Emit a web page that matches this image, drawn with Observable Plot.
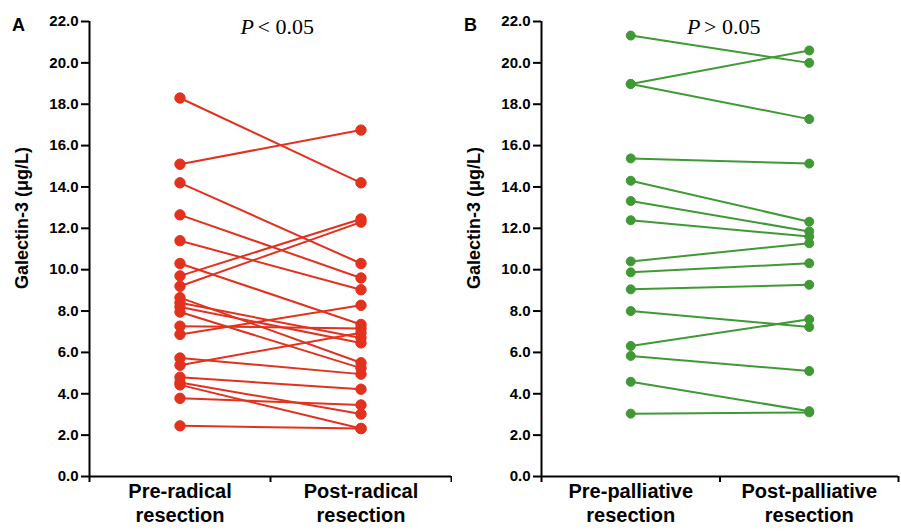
<!DOCTYPE html>
<html><head><meta charset="utf-8">
<script src="https://cdn.jsdelivr.net/npm/d3@7"></script>
<script src="https://cdn.jsdelivr.net/npm/@observablehq/plot@0.6"></script>
<style>
body{margin:0;background:#fff;}
#wrap{display:flex;width:901px;height:531px;overflow:hidden;}
</style></head><body><div id="wrap"></div>
<script>
// Panel A: radical resection (paired values, same index = same patient)
const radicalGroups = ["Pre-radical\nresection", "Post-radical\nresection"];
const radicalPre  = [18.3, 15.1, 14.2, 12.65, 11.4, 10.3, 9.7, 9.2, 8.65, 8.4, 8.2, 7.95, 7.27, 6.87, 5.73, 5.38, 4.8, 4.55, 4.43, 3.78, 2.45];
const radicalPost = [14.2, 16.75, 10.3, 9.6, 9.03, 7.35, 12.45, 12.3, 5.5, 6.7, 6.46, 5.24, 7.16, 8.28, 4.95, 6.95, 4.22, 3.02, 2.32, 3.46, 2.32];
// Panel B: palliative resection
const palliativeGroups = ["Pre-palliative\nresection", "Post-palliative\nresection"];
const palliativePre  = [21.32, 18.98, 18.98, 15.38, 14.3, 13.32, 12.39, 10.4, 9.87, 9.05, 8.0, 6.31, 5.83, 4.58, 3.04];
const palliativePost = [20.0, 20.6, 17.28, 15.13, 12.32, 11.85, 11.6, 11.28, 10.31, 9.27, 7.23, 7.6, 5.1, 3.16, 3.1];
// Axis / text
const yTicks = [0, 2, 4, 6, 8, 10, 12, 14, 16, 18, 20, 22];
const yLabel = "Galectin-3 (μg/L)";
const panelLetters = ["A", "B"];
const pTexts = [["P", "< 0.05"], ["P", "> 0.05"]];

function panel({pre, post, groups, color, letter, pText, width, marginRight, r}) {
  const rows = pre.flatMap((v, i) => [{id: i, g: 0, v}, {id: i, g: 1, v: post[i]}]);
  const serif = "'Liberation Serif', 'Times New Roman', serif";
  return Plot.plot({
    width, height: 531, marginLeft: 89, marginRight, marginTop: 21, marginBottom: 55,
    x: {domain: [0, 2], axis: null},
    y: {domain: [0, 22], axis: null},
    style: {fontFamily: "'Liberation Sans', Arial, sans-serif", fontSize: "15px", background: "white", color: "black"},
    marks: [
      Plot.axisY({ticks: yTicks, tickFormat: () => "", tickSize: 8, label: null, strokeWidth: 2}),
      Plot.text(yTicks, {y: d => d, text: d3.format(".1f"), frameAnchor: "left", dx: -11, textAnchor: "end",
        fontSize: 15, fontWeight: "bold", fill: "black"}),
      Plot.axisX({ticks: [0, 1, 2], tickFormat: () => "", tickSize: 6, label: null, strokeWidth: 2}),
      Plot.ruleX([0], {y1: 0, y2: 22, strokeWidth: 2}),
      Plot.ruleY([0], {strokeWidth: 2}),
      Plot.line(rows, {x: d => d.g + 0.5, y: "v", z: "id", stroke: color, strokeWidth: 2}),
      Plot.dot(rows, {x: d => d.g + 0.5, y: "v", r, fill: color, stroke: color, strokeWidth: 1}),
      Plot.text(groups, {x: (d, i) => i + 0.5, frameAnchor: "bottom", dy: 4, lineAnchor: "top",
        fontSize: 20, fontWeight: "bold", lineHeight: 1.2}),
      Plot.text([yLabel], {y: [12.5], frameAnchor: "left", dx: -67, rotate: -90, textAnchor: "middle",
        fontSize: 18, fontWeight: "bold"}),
      Plot.text([letter], {frameAnchor: "top-left", dx: -71, dy: -3, fontSize: 18, fontWeight: "bold", textAnchor: "middle"}),
      Plot.text([pText[0]], {x: [1], frameAnchor: "top", dx: pText.dxP, dy: -3, textAnchor: "start",
        fontSize: 22, fontStyle: "italic", fontFamily: serif}),
      Plot.text([pText[1]], {x: [1], frameAnchor: "top", dx: pText.dxR, dy: -3, textAnchor: "start",
        fontSize: 22, fontFamily: serif})
    ]
  });
}
const pA = Object.assign([...pTexts[0]], {dxP: -30, dxR: -13});
const pB = Object.assign([...pTexts[1]], {dxP: -33, dxR: -16});
const wrap = document.getElementById("wrap");
wrap.append(panel({pre: radicalPre, post: radicalPost, groups: radicalGroups, color: "#e2311d",
  letter: panelLetters[0], pText: pA, width: 452, marginRight: 1, r: 5.2}));
wrap.append(panel({pre: palliativePre, post: palliativePost, groups: palliativeGroups, color: "#3f9a35",
  letter: panelLetters[1], pText: pB, width: 449, marginRight: 3, r: 4.5}));
</script></body></html>
